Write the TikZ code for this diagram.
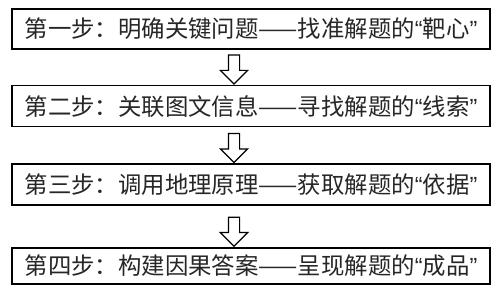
\documentclass[tikz,border=0pt]{standalone}
\usepackage{fontspec}
\newfontfamily\cjk{Noto Sans CJK SC}
\newfontfamily\latin{Liberation Sans}
\newcommand{\quoted}[1]{{\latin“}#1{\latin”}}
\usetikzlibrary{shapes.arrows, positioning}

\begin{document}
\begin{tikzpicture}[node distance=35pt, font=\cjk\fontsize{23.4}{28}\selectfont]
    % Styles
    \tikzstyle{block} = [rectangle, draw, line width=1.6pt, fill=white, minimum width=478pt, minimum height=40pt, inner sep=0pt, text centered, text=black!85]
    \tikzstyle{hollow} = [single arrow, draw, line width=1.2pt, fill=white, minimum height=29pt, single arrow head extend=8pt, inner sep=5pt, shape border rotate=270]

    \useasboundingbox (0,0) rectangle (498pt,-290pt);

    % Nodes
    \node [block] (target) at (251pt,-29pt) {第一步：明确关键问题——找准解题的\quoted{靶心}};
    \node [block, below=35pt of target, minimum height=41pt] (clue) {第二步：关联图文信息——寻找解题的\quoted{线索}};
    \node [block, below=36pt of clue, minimum height=41pt] (basis) {第三步：调用地理原理——获取解题的\quoted{依据}};
    \node [block, below=41pt of basis, minimum height=36pt] (result) {第四步：构建因果答案——呈现解题的\quoted{成品}};

    % Arrows
    \node [hollow, anchor=tip] (down1) at ([xshift=-17pt]clue.north) {};
    \node [hollow, anchor=tip] (down2) at ([xshift=-17pt]basis.north) {};
    \node [hollow, anchor=tip] (down3) at ([xshift=-17pt]result.north) {};
\end{tikzpicture}
\end{document}
